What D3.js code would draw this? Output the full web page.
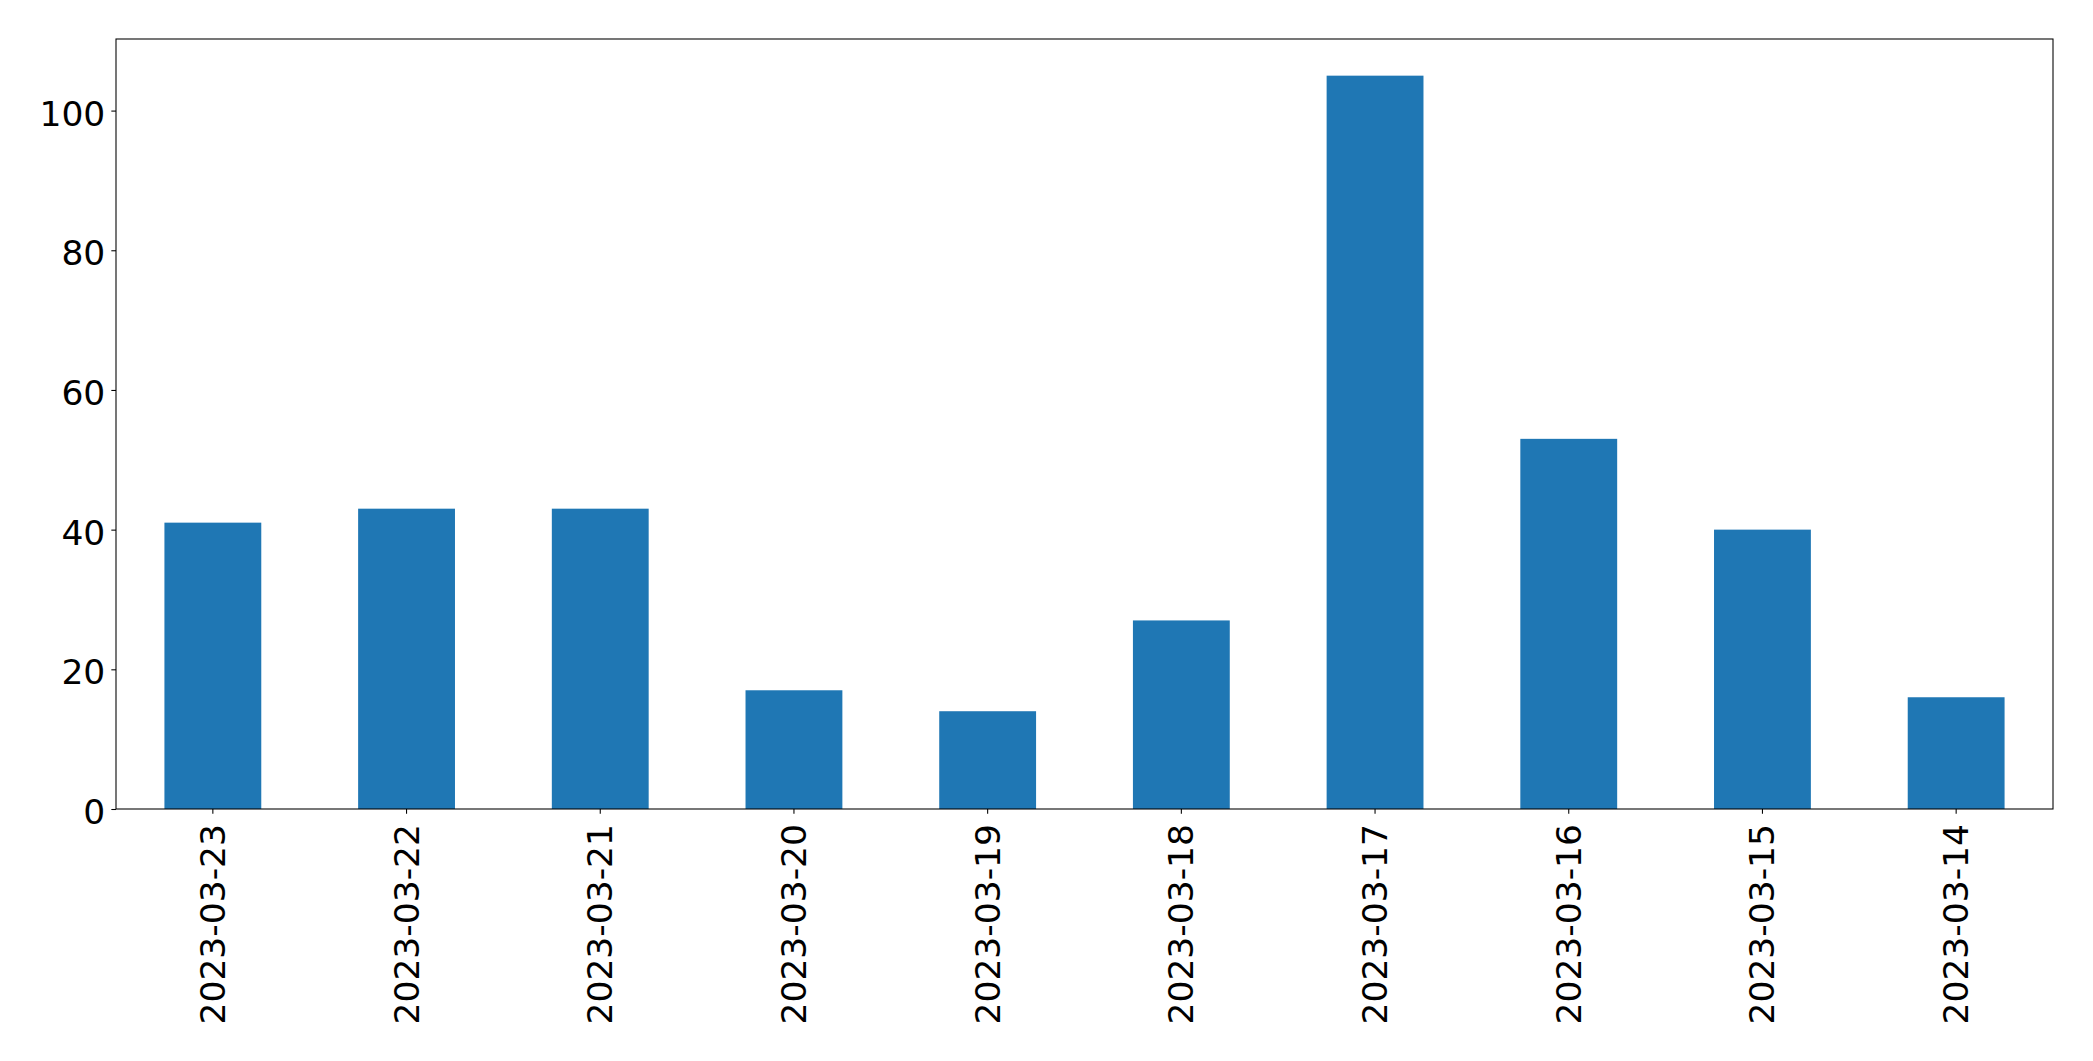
<!DOCTYPE html>
<html>
<head>
<meta charset="utf-8">
<script src="https://cdn.jsdelivr.net/npm/d3@7"></script>
<style>
  html, body { margin: 0; padding: 0; background: #fff; }
  svg { display: block; }
  text { font-family: "DejaVu Sans", sans-serif; fill: #000; }
</style>
</head>
<body>
<script>
const categories = ["2023-03-23", "2023-03-22", "2023-03-21", "2023-03-20", "2023-03-19",
                    "2023-03-18", "2023-03-17", "2023-03-16", "2023-03-15", "2023-03-14"];
const values = [41, 43, 43, 17, 14, 27, 105, 53, 40, 16];
const yTicks = [0, 20, 40, 60, 80, 100];

const W = 2093, H = 1061;
const margin = { left: 116, right: W - 2053, top: 39, bottom: H - 809 };
const iw = W - margin.left - margin.right;
const ih = H - margin.top - margin.bottom;
const fontSize = 34.5;

const svg = d3.select("body").append("svg").attr("width", W).attr("height", H);
const g = svg.append("g").attr("transform", `translate(${margin.left},${margin.top})`);

const x = d3.scaleBand().domain(categories).range([0, iw]).paddingInner(0.5).paddingOuter(0.25);
const y = d3.scaleLinear().domain([0, d3.max(values) * 1.05]).range([ih, 0]);

g.selectAll("rect.bar").data(categories).enter().append("rect")
  .attr("class", "bar")
  .attr("x", d => x(d))
  .attr("width", x.bandwidth())
  .attr("y", (d, i) => y(values[i]))
  .attr("height", (d, i) => ih - y(values[i]))
  .attr("fill", "#1f77b4");

// Y axis
const yAxis = g.append("g").call(d3.axisLeft(y).tickValues(yTicks).tickSize(4.67).tickPadding(0).tickFormat(d3.format("d")));
yAxis.select(".domain").remove();
yAxis.selectAll(".tick line").attr("stroke", "#000").attr("stroke-width", 1.07);
yAxis.selectAll(".tick text")
  .attr("x", -10.7)
  .attr("dy", null)
  .attr("y", 14.6)
  .style("font-size", fontSize + "px")
  .style("font-family", "DejaVu Sans");

// X axis
const xAxis = g.append("g").attr("transform", `translate(0,${ih})`)
  .call(d3.axisBottom(x).tickSize(4.67).tickPadding(0));
xAxis.select(".domain").remove();
xAxis.selectAll(".tick line").attr("stroke", "#000").attr("stroke-width", 1.07);
xAxis.selectAll(".tick text")
  .attr("text-anchor", "end")
  .attr("dy", null)
  .attr("y", null)
  .attr("transform", "translate(0,15) rotate(-90)")
  .attr("x", 0)
  .attr("dy", "12px")
  .style("font-size", fontSize + "px")
  .style("font-family", "DejaVu Sans");

// Frame
g.append("rect")
  .attr("x", 0).attr("y", 0).attr("width", iw).attr("height", ih)
  .attr("fill", "none").attr("stroke", "#000").attr("stroke-width", 1.07);
</script>
</body>
</html>
